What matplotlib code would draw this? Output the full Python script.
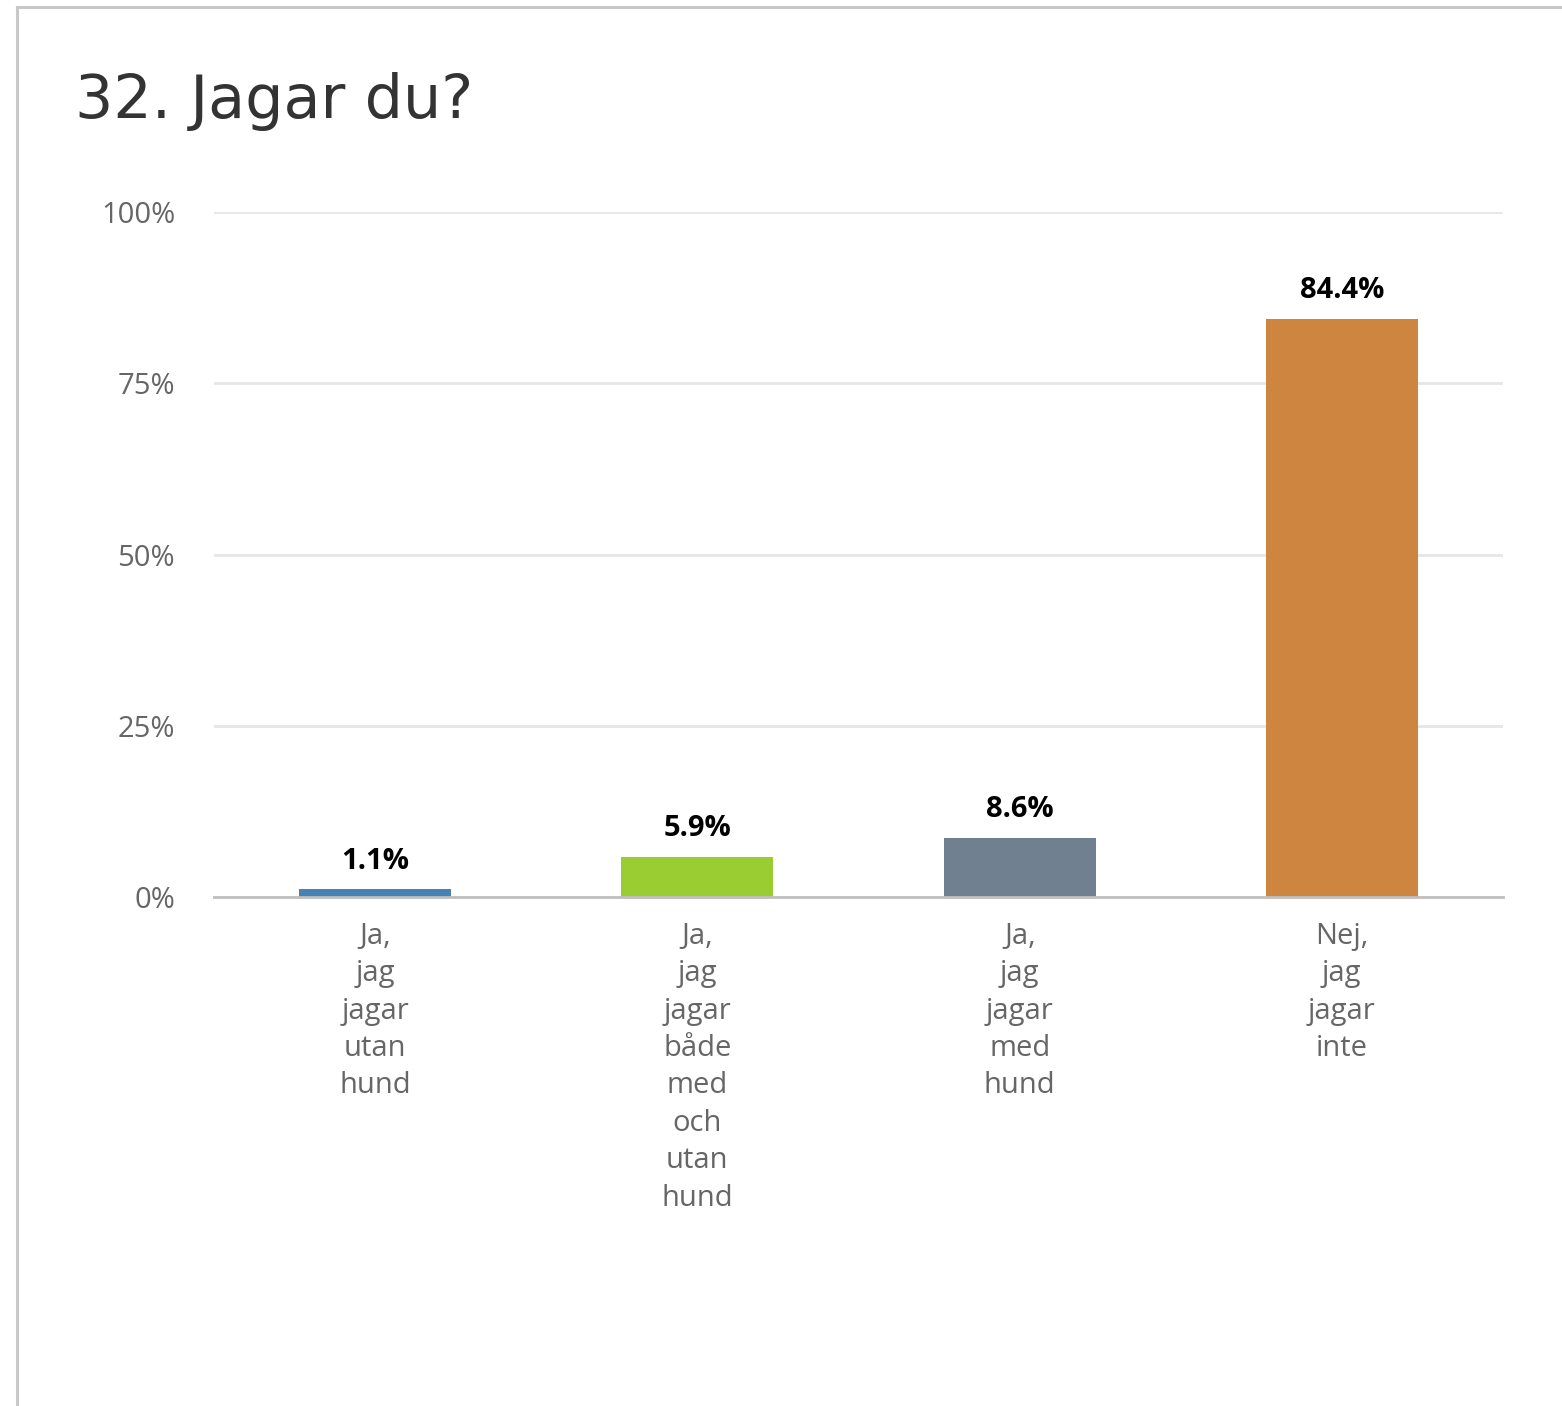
import matplotlib.pyplot as plt
from matplotlib.lines import Line2D

plt.rcParams['font.family'] = ['Open Sans', 'DejaVu Sans']

# survey answers and shares (%)
categories = ['Ja,\njag\njagar\nutan\nhund',
              'Ja,\njag\njagar\nbåde\nmed\noch\nutan\nhund',
              'Ja,\njag\njagar\nmed\nhund',
              'Nej,\njag\njagar\ninte']
values = [1.1, 5.9, 8.6, 84.4]
colors = ['#4682b4', '#9acd32', '#708090', '#cd853f']
yticks = [0, 25, 50, 75, 100]
ytick_labels = ['0%', '25%', '50%', '75%', '100%']

fig = plt.figure(figsize=(15.62, 14.06), dpi=100, facecolor='white')

# card border (left and top edges)
fig.add_artist(Line2D([17 / 1562, 17 / 1562], [0, 1 - 7 / 1406], transform=fig.transFigure,
                      color='#c8c8c8', linewidth=2.2))
fig.add_artist(Line2D([17 / 1562, 1], [1 - 7 / 1406, 1 - 7 / 1406], transform=fig.transFigure,
                      color='#c8c8c8', linewidth=2.2))

fig.text(75 / 1562, 1 - 118 / 1406, '32. Jagar du?', fontsize=43.5, color='#333333',
         ha='left', va='baseline', family=['DejaVu Sans'])

ax = fig.add_axes([214 / 1562, 509 / 1406, 1289 / 1562, 685 / 1406])
x = range(len(values))
bars = ax.bar(x, values, width=0.472, color=colors, zorder=3)

for b, v in zip(bars, values):
    ax.annotate(f'{v}%', xy=(b.get_x() + b.get_width() / 2, v), xytext=(0, 10),
                textcoords='offset points', ha='center', va='bottom',
                fontsize=21, fontweight='bold', color='black')

ax.set_xlim(-0.5, 3.5)
ax.set_ylim(0, 100)
ax.set_yticks(yticks)
ax.set_yticklabels(ytick_labels)
ax.set_xticks(list(x))
ax.set_xticklabels(categories, linespacing=1.38)
ax.tick_params(axis='y', length=0, pad=28, labelsize=21, labelcolor='#666666')
ax.tick_params(axis='x', length=0, pad=18, labelsize=21, labelcolor='#666666')
for t in ax.get_xticklabels():
    t.set_verticalalignment('top')

ax.grid(axis='y', color='#e6e6e6', linewidth=2, zorder=0)
for s in ['top', 'right', 'left']:
    ax.spines[s].set_visible(False)
ax.spines['bottom'].set_color('#bfbfbf')
ax.spines['bottom'].set_linewidth(2)
ax.spines['bottom'].set_zorder(4)

fig.savefig('out.png', dpi=100, facecolor='white')
